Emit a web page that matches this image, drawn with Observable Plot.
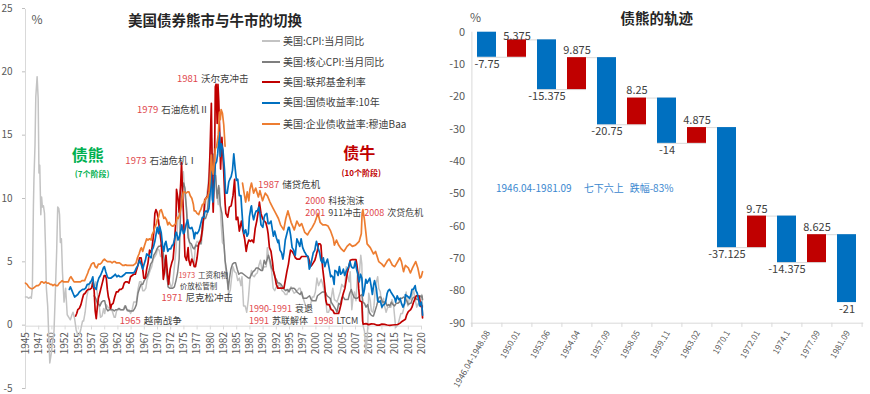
<!DOCTYPE html>
<html><head><meta charset="utf-8">
<script src="https://cdn.jsdelivr.net/npm/d3@7"></script>
<script src="https://cdn.jsdelivr.net/npm/@observablehq/plot@0.6"></script>
<style>
body{margin:0;background:#fff;font-family:"Noto Sans CJK SC",sans-serif;}
#wrap{position:relative;width:870px;height:394px;overflow:hidden;background:#fff;}
#wrap svg{position:absolute;top:0;}
.abs{position:absolute;white-space:nowrap;line-height:1;}
.leg{position:absolute;white-space:nowrap;font-size:10px;color:#404040;line-height:1;transform:translateY(-50%);}
.leg i{display:inline-block;width:18px;height:2px;vertical-align:middle;margin-right:3px;position:relative;top:-1px;}
</style></head><body><div id="wrap"></div>
<script>
// ---------------- Left chart data (year, %) ----------------
const cpi = [[1945.0,2.3],[1945.3,2.3],[1945.6,2.2],[1945.9,2.3],[1946.1,2.2],[1946.3,3.0],[1946.5,9.5],[1946.6,11.6],[1946.8,14.3],[1946.95,18.1],[1947.2,19.7],[1947.4,18.0],[1947.55,12.1],[1947.7,12.7],[1947.9,8.8],[1948.05,10.2],[1948.2,9.4],[1948.4,9.5],[1948.6,8.9],[1948.8,6.1],[1948.95,3.0],[1949.2,1.6],[1949.4,-0.7],[1949.6,-2.9],[1949.9,-2.1],[1950.1,-1.3],[1950.4,-0.4],[1950.6,2.0],[1950.9,5.9],[1951.1,9.4],[1951.3,9.3],[1951.45,8.8],[1951.6,6.6],[1951.8,6.9],[1952.0,4.3],[1952.3,1.9],[1952.6,3.0],[1952.9,0.9],[1953.2,0.7],[1953.5,0.5],[1953.8,0.9],[1954.0,1.1],[1954.3,0.6],[1954.6,-0.3],[1954.9,-0.7],[1955.2,-0.7],[1955.5,-0.2],[1955.8,0.4],[1956.0,0.4],[1956.3,1.1],[1956.6,2.3],[1956.9,2.9],[1957.2,3.5],[1957.5,3.4],[1957.8,3.0],[1958.0,3.0],[1958.3,3.5],[1958.6,2.6],[1958.9,1.8],[1959.2,0.7],[1959.5,0.8],[1959.8,1.4],[1960.0,1.0],[1960.3,1.7],[1960.6,1.5],[1960.9,1.4],[1961.2,1.5],[1961.5,1.1],[1961.8,0.7],[1962.0,0.7],[1962.3,1.3],[1962.6,1.3],[1962.9,1.3],[1963.2,1.3],[1963.5,1.3],[1963.8,1.6],[1964.0,1.6],[1964.3,1.2],[1964.6,1.3],[1964.9,1.0],[1965.2,1.3],[1965.5,1.9],[1965.8,1.9],[1966.0,1.9],[1966.3,2.9],[1966.6,3.5],[1966.9,3.5],[1967.2,2.8],[1967.5,2.8],[1967.8,3.0],[1968.0,3.6],[1968.3,4.0],[1968.6,4.4],[1968.9,4.7],[1969.2,5.3],[1969.5,5.5],[1969.8,5.7],[1970.0,6.1],[1970.3,6.0],[1970.6,5.5],[1970.9,5.6],[1971.2,4.4],[1971.5,4.5],[1971.8,3.8],[1972.0,3.3],[1972.3,3.5],[1972.6,3.0],[1972.9,3.4],[1973.2,4.7],[1973.5,6.0],[1973.8,8.0],[1974.0,9.4],[1974.3,10.7],[1974.6,11.5],[1974.9,12.2],[1975.2,10.3],[1975.5,9.4],[1975.8,7.6],[1976.0,6.7],[1976.3,6.2],[1976.6,5.4],[1976.9,4.9],[1977.2,6.4],[1977.5,6.7],[1977.8,6.6],[1978.0,6.8],[1978.3,6.5],[1978.6,7.7],[1978.9,9.0],[1979.2,10.0],[1979.5,10.9],[1979.8,12.2],[1980.0,13.9],[1980.25,14.8],[1980.5,13.1],[1980.75,12.6],[1980.95,12.5],[1981.2,10.5],[1981.5,9.6],[1981.75,10.9],[1982.0,8.4],[1982.3,6.6],[1982.6,6.4],[1982.9,4.6],[1983.2,3.6],[1983.5,2.5],[1983.8,2.9],[1984.0,3.7],[1984.3,4.7],[1984.6,4.3],[1984.9,4.2],[1985.2,3.6],[1985.5,3.8],[1985.8,3.2],[1986.0,3.9],[1986.3,1.6],[1986.6,1.6],[1986.9,1.1],[1987.2,2.1],[1987.5,3.7],[1987.8,4.4],[1988.0,4.0],[1988.3,3.9],[1988.6,4.1],[1988.9,4.2],[1989.2,4.8],[1989.5,5.2],[1989.8,4.4],[1990.0,4.6],[1990.3,4.7],[1990.6,4.7],[1990.8,6.2],[1991.0,5.6],[1991.3,4.9],[1991.6,4.4],[1991.9,3.0],[1992.2,2.8],[1992.5,3.1],[1992.8,3.0],[1993.0,3.3],[1993.3,3.2],[1993.6,2.8],[1993.9,2.7],[1994.2,2.5],[1994.5,2.5],[1994.8,2.9],[1995.0,2.8],[1995.3,3.1],[1995.6,2.8],[1995.9,2.6],[1996.2,2.7],[1996.5,2.8],[1996.8,3.0],[1997.0,3.0],[1997.3,2.5],[1997.6,2.2],[1997.9,1.8],[1998.2,1.4],[1998.5,1.7],[1998.8,1.5],[1999.0,1.7],[1999.3,2.3],[1999.6,2.3],[1999.9,2.7],[2000.2,3.8],[2000.5,3.2],[2000.8,3.5],[2001.0,3.7],[2001.3,3.3],[2001.6,2.7],[2001.9,1.9],[2002.1,1.1],[2002.4,1.1],[2002.7,1.5],[2002.9,2.2],[2003.2,3.0],[2003.5,2.1],[2003.8,2.0],[2004.0,1.9],[2004.3,2.3],[2004.6,2.7],[2004.9,3.3],[2005.2,3.1],[2005.5,3.2],[2005.75,4.7],[2006.0,4.0],[2006.3,3.5],[2006.5,4.3],[2006.8,1.3],[2007.0,2.1],[2007.3,2.7],[2007.6,2.0],[2007.9,4.3],[2008.2,4.0],[2008.5,5.6],[2008.7,4.9],[2008.9,0.1],[2009.2,-0.4],[2009.5,-2.1],[2009.8,-0.2],[2010.0,2.6],[2010.3,2.0],[2010.5,1.2],[2010.8,1.1],[2011.0,1.6],[2011.3,3.2],[2011.7,3.9],[2011.9,3.0],[2012.2,2.7],[2012.5,1.4],[2012.8,2.2],[2013.0,1.6],[2013.3,1.1],[2013.6,1.5],[2013.9,1.5],[2014.2,1.5],[2014.4,2.1],[2014.7,1.7],[2014.9,0.8],[2015.1,-0.1],[2015.3,0.0],[2015.6,0.2],[2015.9,0.7],[2016.1,1.0],[2016.4,1.0],[2016.7,1.5],[2016.9,2.1],[2017.1,2.7],[2017.4,1.6],[2017.7,2.2],[2017.9,2.1],[2018.2,2.4],[2018.5,2.9],[2018.7,2.3],[2018.9,1.9],[2019.1,1.5],[2019.4,1.8],[2019.7,1.7],[2019.9,2.3],[2020.05,2.5],[2020.2,1.5]];

const coreCpi = [[1958.0,2.4],[1958.3,2.2],[1958.6,1.8],[1958.9,1.7],[1959.1,1.6],[1959.4,1.9],[1959.7,2.0],[1960.0,2.0],[1960.3,1.4],[1960.6,1.2],[1960.9,1.3],[1961.2,1.3],[1961.5,1.3],[1961.8,1.2],[1962.1,1.3],[1962.4,1.3],[1962.7,1.4],[1963.0,1.3],[1963.3,1.3],[1963.6,1.3],[1963.9,1.6],[1964.2,1.3],[1964.5,1.2],[1964.8,1.2],[1965.1,1.2],[1965.4,1.2],[1965.7,1.4],[1966.0,1.7],[1966.3,2.6],[1966.6,3.0],[1966.9,3.3],[1967.2,3.3],[1967.5,3.6],[1967.8,3.8],[1968.1,4.0],[1968.4,4.4],[1968.7,4.9],[1969.0,5.1],[1969.3,5.6],[1969.6,5.8],[1969.9,6.1],[1970.2,6.3],[1970.5,6.3],[1970.8,6.5],[1971.1,5.7],[1971.4,4.9],[1971.7,4.5],[1972.0,3.1],[1972.3,3.0],[1972.6,3.0],[1972.9,3.0],[1973.2,3.1],[1973.5,3.6],[1973.8,4.2],[1974.1,5.3],[1974.4,9.5],[1974.7,10.6],[1974.95,11.3],[1975.2,10.9],[1975.5,9.1],[1975.8,7.0],[1976.1,6.6],[1976.4,6.5],[1976.7,6.2],[1976.95,6.1],[1977.3,6.4],[1977.6,6.3],[1977.9,6.5],[1978.2,6.5],[1978.5,8.0],[1978.8,8.5],[1979.1,8.5],[1979.4,8.9],[1979.7,10.3],[1979.95,11.3],[1980.3,12.9],[1980.5,13.6],[1980.7,11.9],[1981.0,11.9],[1981.3,10.1],[1981.6,11.1],[1981.9,9.5],[1982.2,8.9],[1982.5,7.1],[1982.8,5.2],[1983.1,4.3],[1983.4,2.9],[1983.6,3.7],[1983.9,4.5],[1984.2,4.9],[1984.5,5.0],[1984.8,5.0],[1985.1,4.5],[1985.4,4.1],[1985.7,4.2],[1986.0,4.2],[1986.3,4.1],[1986.6,4.0],[1986.9,3.9],[1987.2,3.8],[1987.5,3.8],[1987.8,4.1],[1988.1,4.3],[1988.4,4.4],[1988.7,4.6],[1989.0,4.6],[1989.3,4.5],[1989.6,4.4],[1989.9,4.4],[1990.2,5.2],[1990.5,4.9],[1990.8,5.3],[1991.0,5.6],[1991.3,5.2],[1991.6,4.6],[1991.9,4.4],[1992.2,3.9],[1992.5,3.7],[1992.8,3.4],[1993.1,3.4],[1993.4,3.3],[1993.7,3.1],[1994.0,2.9],[1994.3,2.8],[1994.6,2.9],[1994.9,2.7],[1995.2,3.0],[1995.5,3.0],[1995.8,3.0],[1996.1,2.9],[1996.4,2.7],[1996.7,2.6],[1997.0,2.5],[1997.3,2.7],[1997.6,2.2],[1997.9,2.2],[1998.2,2.2],[1998.5,2.3],[1998.8,2.4],[1999.1,2.1],[1999.4,2.0],[1999.7,2.0],[2000.0,2.0],[2000.3,2.4],[2000.6,2.5],[2000.9,2.6],[2001.2,2.7],[2001.5,2.7],[2001.8,2.7],[2002.1,2.4],[2002.4,2.3],[2002.7,2.2],[2002.9,1.9],[2003.2,1.7],[2003.5,1.5],[2003.8,1.3],[2004.0,1.1],[2004.3,1.8],[2004.6,1.7],[2004.9,2.2],[2005.2,2.3],[2005.5,2.1],[2005.8,2.1],[2006.1,2.1],[2006.4,2.6],[2006.7,2.9],[2006.9,2.6],[2007.2,2.3],[2007.5,2.2],[2007.8,2.2],[2008.1,2.3],[2008.4,2.4],[2008.7,2.5],[2008.9,1.9],[2009.2,1.8],[2009.5,1.5],[2009.8,1.7],[2010.1,1.1],[2010.4,0.9],[2010.7,0.8],[2010.9,0.8],[2011.2,1.2],[2011.5,1.6],[2011.8,2.1],[2012.0,2.3],[2012.3,2.3],[2012.6,1.9],[2012.9,1.9],[2013.2,1.9],[2013.5,1.6],[2013.8,1.7],[2014.0,1.6],[2014.3,1.9],[2014.6,1.7],[2014.9,1.6],[2015.2,1.8],[2015.5,1.8],[2015.8,1.9],[2016.0,2.2],[2016.3,2.2],[2016.6,2.3],[2016.9,2.2],[2017.2,2.0],[2017.5,1.7],[2017.8,1.8],[2018.0,1.8],[2018.3,2.2],[2018.6,2.3],[2018.9,2.2],[2019.1,2.1],[2019.4,2.1],[2019.7,2.4],[2019.95,2.3],[2020.1,2.4],[2020.2,2.1]];

const fedFunds = [[1954.5,0.8],[1954.7,1.0],[1954.9,1.3],[1955.2,1.4],[1955.5,1.7],[1955.8,2.2],[1956.0,2.5],[1956.3,2.6],[1956.6,2.8],[1956.9,2.9],[1957.2,2.9],[1957.5,3.0],[1957.8,3.5],[1958.0,2.8],[1958.2,1.2],[1958.4,0.6],[1958.6,1.5],[1958.8,2.2],[1959.0,2.5],[1959.3,3.0],[1959.6,3.5],[1959.9,4.0],[1960.1,4.0],[1960.3,3.8],[1960.5,2.9],[1960.7,2.3],[1960.9,2.0],[1961.1,1.4],[1961.3,1.7],[1961.6,1.8],[1961.9,2.3],[1962.2,2.7],[1962.5,2.7],[1962.8,2.9],[1963.1,2.9],[1963.4,3.0],[1963.7,3.4],[1963.95,3.5],[1964.3,3.5],[1964.6,3.4],[1964.9,3.9],[1965.2,4.0],[1965.5,4.1],[1965.8,4.1],[1966.0,4.4],[1966.3,4.8],[1966.6,5.4],[1966.9,5.4],[1967.2,4.5],[1967.4,3.8],[1967.7,3.8],[1967.95,4.5],[1968.2,5.0],[1968.5,6.0],[1968.8,5.8],[1969.0,6.3],[1969.3,7.4],[1969.5,8.9],[1969.7,9.2],[1969.9,9.0],[1970.1,8.6],[1970.4,7.6],[1970.7,6.6],[1970.95,5.0],[1971.1,3.7],[1971.3,4.2],[1971.6,5.6],[1971.9,4.1],[1972.1,3.3],[1972.4,4.5],[1972.7,5.0],[1972.95,5.3],[1973.2,6.5],[1973.5,8.5],[1973.6,10.8],[1973.9,10.0],[1974.1,9.0],[1974.4,11.3],[1974.55,12.9],[1974.8,10.0],[1974.95,8.5],[1975.2,5.5],[1975.5,5.2],[1975.8,6.2],[1975.95,5.2],[1976.2,4.8],[1976.5,5.3],[1976.8,5.0],[1976.95,4.7],[1977.2,4.7],[1977.5,5.4],[1977.8,6.5],[1977.95,6.6],[1978.2,6.8],[1978.5,7.6],[1978.8,9.0],[1978.95,10.0],[1979.2,10.1],[1979.5,10.3],[1979.75,11.4],[1979.95,13.8],[1980.2,17.6],[1980.4,11.0],[1980.55,9.0],[1980.8,12.8],[1980.95,18.9],[1981.1,19.1],[1981.3,16.0],[1981.45,19.1],[1981.6,17.8],[1981.8,15.1],[1981.95,12.4],[1982.2,14.9],[1982.5,12.6],[1982.8,9.7],[1982.95,8.9],[1983.3,8.6],[1983.6,9.4],[1983.95,9.5],[1984.3,10.3],[1984.6,11.6],[1984.9,8.4],[1985.2,8.6],[1985.5,7.5],[1985.9,8.3],[1986.2,7.5],[1986.5,6.9],[1986.8,5.9],[1987.0,6.4],[1987.3,6.8],[1987.6,6.7],[1987.9,6.8],[1988.2,6.6],[1988.5,7.7],[1988.8,8.3],[1989.1,9.1],[1989.3,9.8],[1989.6,8.9],[1989.9,8.5],[1990.2,8.3],[1990.5,8.2],[1990.8,7.7],[1990.95,7.3],[1991.2,6.2],[1991.5,5.9],[1991.8,5.0],[1991.95,4.4],[1992.2,4.0],[1992.5,3.3],[1992.8,3.0],[1993.1,3.0],[1993.4,3.0],[1993.7,3.0],[1993.95,3.0],[1994.2,3.6],[1994.5,4.3],[1994.8,4.9],[1995.0,5.5],[1995.2,6.0],[1995.5,5.9],[1995.8,5.7],[1996.1,5.4],[1996.4,5.3],[1996.7,5.3],[1996.95,5.3],[1997.3,5.5],[1997.6,5.5],[1997.9,5.5],[1998.2,5.5],[1998.5,5.5],[1998.8,5.1],[1998.95,4.7],[1999.2,4.8],[1999.5,5.0],[1999.8,5.2],[2000.0,5.5],[2000.3,6.0],[2000.5,6.5],[2000.8,6.5],[2000.95,6.4],[2001.1,5.5],[2001.3,4.5],[2001.5,3.8],[2001.7,3.0],[2001.9,2.0],[2002.1,1.7],[2002.5,1.7],[2002.9,1.3],[2003.2,1.25],[2003.5,1.0],[2003.9,1.0],[2004.3,1.0],[2004.5,1.3],[2004.8,1.8],[2004.95,2.2],[2005.2,2.6],[2005.5,3.0],[2005.8,3.8],[2005.95,4.2],[2006.2,4.6],[2006.5,5.2],[2006.8,5.25],[2007.2,5.25],[2007.6,5.25],[2007.75,4.9],[2007.95,4.2],[2008.1,3.0],[2008.3,2.0],[2008.7,1.9],[2008.85,0.4],[2008.95,0.16],[2009.5,0.2],[2010.0,0.12],[2010.5,0.18],[2011.0,0.17],[2011.5,0.09],[2012.0,0.08],[2012.5,0.16],[2013.0,0.14],[2013.5,0.09],[2014.0,0.07],[2014.5,0.09],[2015.0,0.11],[2015.5,0.13],[2015.95,0.24],[2016.3,0.37],[2016.95,0.54],[2017.2,0.9],[2017.5,1.15],[2017.95,1.3],[2018.2,1.5],[2018.5,1.9],[2018.8,2.2],[2019.0,2.4],[2019.5,2.4],[2019.7,2.0],[2019.9,1.55],[2020.1,1.6],[2020.2,0.65]];

const treasury10y = [[1953.3,2.9],[1953.5,3.1],[1953.8,2.8],[1954.0,2.6],[1954.3,2.3],[1954.6,2.4],[1954.9,2.5],[1955.2,2.7],[1955.5,2.8],[1955.8,2.9],[1956.1,2.9],[1956.4,3.0],[1956.7,3.3],[1956.95,3.3],[1957.2,3.4],[1957.5,3.6],[1957.75,3.9],[1957.95,3.1],[1958.2,3.0],[1958.4,2.9],[1958.6,3.4],[1958.9,3.8],[1959.2,4.0],[1959.5,4.3],[1959.75,4.6],[1959.95,4.7],[1960.2,4.3],[1960.5,3.9],[1960.7,3.8],[1960.95,3.8],[1961.2,3.8],[1961.5,3.9],[1961.8,4.0],[1962.0,4.1],[1962.3,3.9],[1962.6,4.0],[1962.9,3.9],[1963.2,3.9],[1963.5,4.0],[1963.8,4.1],[1964.0,4.2],[1964.3,4.2],[1964.6,4.2],[1964.9,4.2],[1965.2,4.2],[1965.5,4.2],[1965.8,4.4],[1966.0,4.6],[1966.3,4.8],[1966.6,5.2],[1966.9,4.9],[1967.2,4.5],[1967.4,4.8],[1967.7,5.2],[1967.95,5.7],[1968.2,5.6],[1968.5,5.5],[1968.8,5.4],[1968.95,6.0],[1969.2,6.2],[1969.5,6.7],[1969.75,7.3],[1969.95,7.8],[1970.2,7.3],[1970.4,7.9],[1970.7,7.4],[1970.95,6.4],[1971.2,5.9],[1971.4,6.5],[1971.6,6.7],[1971.95,5.9],[1972.2,6.1],[1972.5,6.1],[1972.8,6.4],[1972.95,6.4],[1973.2,6.8],[1973.5,7.4],[1973.6,7.4],[1973.9,6.8],[1974.1,7.0],[1974.4,7.5],[1974.6,8.0],[1974.9,7.3],[1975.1,7.4],[1975.4,8.0],[1975.7,8.4],[1975.95,7.8],[1976.2,7.7],[1976.5,7.8],[1976.8,7.4],[1976.95,6.9],[1977.2,7.4],[1977.5,7.3],[1977.8,7.5],[1977.95,7.7],[1978.2,8.1],[1978.5,8.6],[1978.8,8.6],[1978.95,9.0],[1979.2,9.1],[1979.5,9.0],[1979.75,9.3],[1979.95,10.4],[1980.15,12.8],[1980.4,10.0],[1980.5,9.8],[1980.8,11.6],[1980.95,12.8],[1981.2,13.0],[1981.4,13.6],[1981.7,15.3],[1981.9,13.4],[1982.1,14.4],[1982.4,13.9],[1982.7,12.3],[1982.9,10.5],[1983.2,10.5],[1983.5,11.4],[1983.7,11.6],[1983.95,11.8],[1984.2,12.3],[1984.45,13.6],[1984.7,12.5],[1984.95,11.5],[1985.2,11.6],[1985.5,10.3],[1985.8,10.3],[1985.95,9.3],[1986.2,7.8],[1986.4,7.3],[1986.7,7.6],[1986.95,7.1],[1987.2,7.3],[1987.4,8.6],[1987.7,9.4],[1987.8,9.5],[1987.95,8.9],[1988.2,8.4],[1988.5,8.9],[1988.7,9.1],[1988.95,9.1],[1989.2,9.4],[1989.4,8.9],[1989.6,8.0],[1989.95,7.8],[1990.2,8.6],[1990.4,8.8],[1990.7,8.9],[1990.95,8.1],[1991.2,8.1],[1991.5,8.3],[1991.8,7.5],[1991.95,7.1],[1992.2,7.5],[1992.5,7.0],[1992.8,6.6],[1992.95,6.8],[1993.2,6.0],[1993.5,5.8],[1993.75,5.3],[1993.95,5.8],[1994.2,6.8],[1994.5,7.3],[1994.8,7.8],[1994.95,7.8],[1995.2,7.2],[1995.5,6.2],[1995.8,6.0],[1995.95,5.7],[1996.1,5.6],[1996.4,6.9],[1996.7,6.6],[1996.95,6.3],[1997.2,6.9],[1997.5,6.2],[1997.8,5.9],[1997.95,5.8],[1998.2,5.6],[1998.5,5.5],[1998.75,4.5],[1998.95,4.7],[1999.2,5.2],[1999.5,5.8],[1999.8,6.0],[1999.95,6.4],[2000.1,6.7],[2000.4,6.2],[2000.7,5.8],[2000.95,5.2],[2001.2,5.0],[2001.4,5.4],[2001.7,4.7],[2001.9,5.0],[2002.2,5.3],[2002.5,4.6],[2002.8,3.9],[2002.95,4.0],[2003.2,3.9],[2003.45,3.3],[2003.6,4.4],[2003.95,4.3],[2004.2,4.0],[2004.45,4.7],[2004.7,4.1],[2004.95,4.2],[2005.2,4.5],[2005.45,4.0],[2005.7,4.3],[2005.95,4.5],[2006.2,4.7],[2006.45,5.1],[2006.7,4.7],[2006.95,4.6],[2007.2,4.6],[2007.45,5.1],[2007.7,4.5],[2007.95,4.1],[2008.2,3.5],[2008.45,4.1],[2008.7,3.8],[2008.95,2.4],[2009.2,2.9],[2009.45,3.7],[2009.7,3.4],[2009.95,3.6],[2010.2,3.8],[2010.45,3.2],[2010.7,2.5],[2010.95,3.3],[2011.1,3.6],[2011.45,3.0],[2011.7,2.0],[2011.95,1.9],[2012.2,2.0],[2012.5,1.5],[2012.8,1.7],[2012.95,1.7],[2013.2,1.9],[2013.5,2.6],[2013.7,2.8],[2013.95,2.9],[2014.2,2.7],[2014.5,2.5],[2014.8,2.3],[2014.95,2.2],[2015.1,1.9],[2015.4,2.4],[2015.7,2.1],[2015.95,2.2],[2016.2,1.8],[2016.5,1.5],[2016.8,1.8],[2016.95,2.5],[2017.2,2.4],[2017.5,2.3],[2017.7,2.2],[2017.95,2.4],[2018.2,2.9],[2018.45,2.9],[2018.8,3.2],[2018.95,2.8],[2019.2,2.6],[2019.45,2.1],[2019.65,1.6],[2019.95,1.9],[2020.1,1.5],[2020.2,0.87]];

const baa = [[1945.0,3.4],[1945.3,3.3],[1945.6,3.1],[1945.9,3.0],[1946.2,2.95],[1946.5,3.0],[1946.8,3.1],[1947.1,3.2],[1947.4,3.2],[1947.7,3.3],[1947.95,3.5],[1948.2,3.5],[1948.5,3.4],[1948.8,3.5],[1949.1,3.4],[1949.4,3.4],[1949.7,3.3],[1949.95,3.3],[1950.2,3.2],[1950.5,3.3],[1950.8,3.2],[1951.1,3.2],[1951.4,3.4],[1951.7,3.5],[1951.95,3.6],[1952.2,3.5],[1952.5,3.5],[1952.8,3.5],[1953.1,3.5],[1953.4,3.8],[1953.6,3.9],[1953.9,3.7],[1954.2,3.5],[1954.5,3.5],[1954.8,3.5],[1955.1,3.5],[1955.4,3.5],[1955.7,3.6],[1955.95,3.6],[1956.2,3.6],[1956.5,3.9],[1956.8,4.2],[1956.95,4.4],[1957.2,4.6],[1957.5,4.9],[1957.8,5.0],[1957.95,5.0],[1958.2,4.7],[1958.5,4.6],[1958.8,4.9],[1959.1,4.9],[1959.4,5.0],[1959.7,5.2],[1959.95,5.3],[1960.2,5.2],[1960.5,5.1],[1960.8,5.1],[1961.1,5.1],[1961.4,5.0],[1961.7,5.1],[1961.95,5.1],[1962.2,5.0],[1962.5,5.0],[1962.8,5.0],[1963.1,4.9],[1963.4,4.8],[1963.7,4.8],[1963.95,4.85],[1964.2,4.8],[1964.5,4.8],[1964.8,4.8],[1965.1,4.8],[1965.4,4.8],[1965.7,4.9],[1965.95,5.0],[1966.2,5.4],[1966.5,5.7],[1966.8,6.1],[1966.95,6.2],[1967.2,5.9],[1967.5,6.3],[1967.8,6.7],[1967.95,6.9],[1968.2,6.8],[1968.5,6.9],[1968.8,6.8],[1968.95,7.2],[1969.2,7.4],[1969.5,7.8],[1969.8,8.1],[1969.95,8.4],[1970.2,8.6],[1970.45,9.1],[1970.7,9.2],[1970.95,8.9],[1971.2,8.5],[1971.4,8.6],[1971.7,8.4],[1971.95,8.0],[1972.2,8.2],[1972.5,8.0],[1972.8,7.9],[1972.95,7.9],[1973.2,8.0],[1973.5,8.1],[1973.7,8.6],[1973.95,8.5],[1974.2,8.8],[1974.5,9.5],[1974.7,10.2],[1974.9,10.6],[1975.1,10.6],[1975.4,10.5],[1975.7,10.6],[1975.95,10.6],[1976.2,10.3],[1976.5,10.1],[1976.8,9.6],[1976.95,9.1],[1977.2,9.1],[1977.5,8.9],[1977.8,8.8],[1977.95,9.0],[1978.2,9.2],[1978.5,9.6],[1978.8,9.7],[1978.95,9.9],[1979.2,10.1],[1979.5,10.2],[1979.75,10.6],[1979.95,11.5],[1980.2,13.5],[1980.4,12.3],[1980.55,12.0],[1980.8,13.1],[1980.95,14.0],[1981.2,14.2],[1981.5,15.1],[1981.75,16.9],[1981.9,16.3],[1982.05,17.1],[1982.3,16.8],[1982.55,15.9],[1982.8,14.2],[1984.5,null],[1986.1,11.3],[1986.4,10.5],[1986.7,9.8],[1987.0,10.6],[1987.3,9.9],[1987.5,10.8],[1987.8,11.3],[1988.2,10.5],[1988.6,10.9],[1989.1,10.2],[1989.4,10.7],[1989.9,9.9],[1990.4,10.5],[1990.8,10.3],[1991.3,9.8],[1991.9,9.3],[1992.4,8.9],[1992.9,8.5],[1993.3,8.0],[1993.9,7.6],[1994.3,8.5],[1994.7,9.1],[1995.3,8.2],[1995.9,7.6],[1996.4,8.3],[1996.9,7.9],[1997.3,8.1],[1997.9,7.4],[1998.4,7.2],[1998.8,7.5],[1999.3,7.8],[1999.8,8.2],[2000.4,8.9],[2000.8,8.2],[2001.3,8.0],[2001.8,8.0],[2002.3,7.9],[2002.8,7.5],[2003.3,6.9],[2003.5,6.4],[2003.9,6.8],[2004.3,6.4],[2004.8,6.1],[2005.3,5.9],[2005.9,6.3],[2006.4,6.5],[2006.9,6.3],[2007.5,6.4],[2008.2,6.7],[2008.6,7.3],[2008.75,8.9],[2008.9,9.2],[2009.2,8.4],[2009.7,6.5],[2010.3,6.2],[2010.9,5.7],[2011.3,5.9],[2011.9,5.1],[2012.5,4.9],[2012.9,4.7],[2013.6,5.2],[2013.9,5.3],[2014.5,4.8],[2014.95,4.7],[2015.9,5.4],[2016.2,5.1],[2016.6,4.3],[2016.95,4.8],[2017.5,4.6],[2017.9,4.2],[2018.3,4.6],[2018.9,5.1],[2019.3,4.6],[2019.7,3.8],[2019.95,3.9],[2020.2,4.3]];

const xTickLabels = ["1945","1947","1950","1952","1955","1957","1960","1962","1965","1967","1970","1972","1975","1977","1980","1982","1985","1987","1990","1992","1995","1997","2000","2002","2005","2007","2010","2012","2015","2017","2020"];
const yTicksLeft = [-5,0,5,10,15,20,25];

const seriesNames = ["美国:CPI:当月同比","美国:核心CPI:当月同比","美国:联邦基金利率","美国:国债收益率:10年","美国:企业债收益率:穆迪Baa"];
const seriesColors = ["#C3C3C3","#7F7F7F","#C00000","#0070C0","#ED7D31"];

// annotations: anchor (year position, value); red part ends at anchor, grey part starts there
const notes = [
  {x:1977.86,y:19.55,a:"1981",b:"沃尔克冲击",s:9.5},
  {x:1970.32,y:17.1,a:"1979",b:"石油危机Ⅱ",s:9.5},
  {x:1968.1,y:13.04,a:"1973",b:"石油危机Ⅰ",s:9.5},
  {x:1993.24,y:11.17,a:"1987",b:"储贷危机",s:9.5},
  {x:2001.97,y:9.85,a:"2000",b:"科技泡沫",s:9},
  {x:2001.97,y:8.92,a:"2001",b:"911冲击",s:9},
  {x:2013.12,y:8.92,a:"2008",b:"次贷危机",s:9},
  {x:1977.3,y:4.0,a:"1973",b:"工资和物",s:7.5},
  {x:1974.92,y:2.24,a:"1971",b:"尼克松冲击",s:9.5},
  {x:1995.66,y:1.32,a:"1990-1991",b:"衰退",s:9},
  {x:1991.3,y:0.42,a:"1991",b:"苏联解体",s:9},
  {x:2003.52,y:0.42,a:"1998",b:"LTCM",s:9},
  {x:1967.03,y:0.4,a:"1965",b:"越南战争",s:9.5}
];

// ---------------- Right chart data ----------------
const periods = ["1946.04-1948.08","1950.01","1953.06","1954.04","1957.09","1958.05","1959.11","1963.02","1970.1","1972.01","1974.1","1977.09","1981.09"];
const changes = [-7.75,5.375,-15.375,9.875,-20.75,8.25,-14,4.875,-37.125,9.75,-14.375,8.625,-21];
const yTicksRight = [-90,-80,-70,-60,-50,-40,-30,-20,-10,0];

const BLUE = "#0070C0", RED = "#C00000", GRID = "#D9D9D9", TXT = "#595959", ANN_RED = "#E0474C";
const FONT = "Noto Sans CJK SC, sans-serif";

// ---------- left plot ----------
const toPts = arr => arr.map(([x, y]) => ({x, y}));
const allSeries = [cpi, coreCpi, fedFunds, treasury10y, baa];
const tickData = xTickLabels.map((label, i) => ({pos: 1945 + i * 2.5, label}));

const leftPlot = Plot.plot({
  width: 440, height: 394,
  marginLeft: 25, marginRight: 19, marginTop: 9, marginBottom: 5,
  x: {domain: [1945, 2020], axis: null},
  y: {domain: [-5, 25]},
  style: {fontFamily: FONT, background: "transparent", overflow: "visible"},
  marks: [
    Plot.ruleX([1945], {stroke: GRID}),
    Plot.ruleY([0], {stroke: GRID}),
    Plot.axisY({ticks: yTicksLeft, tickSize: 3, tickPadding: 10, fontSize: 10, stroke: "#BFBFBF", fill: TXT, tickFormat: d => String(d), label: null, dy: -1}),
    Plot.ruleX(tickData, {x: "pos", y1: 0, y2: -0.3, stroke: GRID}),
    Plot.text(tickData, {x: "pos", y: 0, text: "label", rotate: -90, textAnchor: "end", dy: 6, fontSize: 10, fill: TXT}),
    ...allSeries.map((s, i) => Plot.line(toPts(s), {x: "x", y: "y", stroke: seriesColors[i], strokeWidth: i < 2 ? 1.5 : 1.7})),
    Plot.text(notes, {x: "x", y: "y", text: "a", textAnchor: "end", fill: ANN_RED, fontSize: d => d.s, dx: -1}),
    Plot.text(notes, {x: "x", y: "y", text: "b", textAnchor: "start", fill: "#404040", fontSize: d => d.s, dx: 2}),
    Plot.text(["价放松管制"], {x: 1974.22, y: 3.1, text: d => d, textAnchor: "start", fill: "#404040", fontSize: 7.5}),
    Plot.text(["债熊"], {x: 1956.8, y: 13.45, text: d => d, fill: "#00B050", fontSize: 16, fontWeight: "bold"}),
    Plot.text(["(7个阶段)"], {x: 1957.6, y: 11.95, text: d => d, fill: "#00B050", fontSize: 8, fontWeight: "bold"}),
    Plot.text(["债牛"], {x: 2008.2, y: 13.6, text: d => d, fill: "#C00000", fontSize: 16, fontWeight: "bold"}),
    Plot.text(["(10个阶段)"], {x: 2008.6, y: 12.05, text: d => d, fill: "#C00000", fontSize: 8, fontWeight: "bold"})
  ]
});
leftPlot.style.left = "0px";

// ---------- right plot ----------
let level = 0;
const rows = periods.map((p, i) => {
  const start = level; level += changes[i];
  return {cat: p, v: changes[i], start, end: level, next: periods[i + 1], label: String(changes[i])};
});
const neg = rows.filter(d => d.v < 0), pos = rows.filter(d => d.v > 0);
const step = (863.3 - 470.7) / periods.length;

const rightPlot = Plot.plot({
  width: 430, height: 394,
  marginLeft: 30.7, marginRight: 6.7, marginTop: 31.7, marginBottom: 71.3,
  x: {domain: periods, paddingInner: 0.36, paddingOuter: 0.18, axis: null},
  y: {domain: [-90, 0]},
  style: {fontFamily: FONT, background: "transparent", overflow: "visible"},
  marks: [
    Plot.ruleY([-90], {stroke: GRID}),
    Plot.ruleX(periods, {x: d => d, y1: 0, y2: -91.3, dx: -step / 2, stroke: GRID, filter: (d, i) => i === 0}),
    Plot.ruleX(periods, {x: d => d, y1: -90, y2: -91.3, dx: -step / 2, stroke: GRID}),
    Plot.ruleX([periods[periods.length - 1]], {x: d => d, y1: -90, y2: -91.3, dx: step / 2, stroke: GRID}),
    Plot.axisY({ticks: yTicksRight, tickSize: 0, tickPadding: 6, fontSize: 11, fill: TXT, tickFormat: d => String(d), label: null}),
    Plot.ruleY(rows.filter(d => d.next), {x1: "cat", x2: "next", y: "end", stroke: GRID, strokeWidth: 1}),
    Plot.barY(neg, {x: "cat", y1: "start", y2: "end", fill: BLUE}),
    Plot.barY(pos, {x: "cat", y1: "start", y2: "end", fill: RED}),
    Plot.text(neg, {x: "cat", y: "end", text: "label", dy: 7, fontSize: 11, fill: "#404040"}),
    Plot.text(pos, {x: "cat", y: d => Math.min(d.end + 2.2, -1.45), text: "label", fontSize: 11, fill: "#404040"}),
    Plot.text(periods, {x: d => d, y: -90, text: d => d, rotate: -60, textAnchor: "end", dy: 8, dx: 1, fontSize: 8.5, fill: TXT})
  ]
});
rightPlot.style.left = "440px";

const wrap = document.getElementById("wrap");
wrap.appendChild(leftPlot);
wrap.appendChild(rightPlot);

function addText(txt, x, y, css, center) {
  const d = document.createElement("div");
  d.className = "abs";
  d.textContent = txt;
  d.style.cssText += css;
  d.style.left = x + "px"; d.style.top = y + "px";
  d.style.transform = center ? "translate(-50%,-50%)" : "translateY(-50%)";
  wrap.appendChild(d);
  return d;
}
addText("美国债券熊市与牛市的切换", 215, 19.5, "font-size:14.5px;font-weight:700;color:#262626;", true);
addText("%", 31.5, 18.5, "font-size:12px;color:#595959;", false);
addText("债熊的轨迹", 656.7, 17.5, "font-size:14.5px;font-weight:700;color:#262626;", true);
addText("%", 470, 17, "font-size:12px;color:#595959;", false);

const legY = [41, 61.5, 81.7, 102.3, 124];
seriesNames.forEach((n, i) => {
  const d = document.createElement("div");
  d.className = "leg";
  d.style.left = "262px"; d.style.top = legY[i] + "px";
  const sw = document.createElement("i");
  sw.style.background = seriesColors[i];
  d.appendChild(sw);
  d.appendChild(document.createTextNode(n));
  wrap.appendChild(d);
});

const ann = document.createElement("div");
ann.className = "abs";
ann.style.cssText += "left:496px;top:187.5px;transform:translateY(-50%);font-size:10px;color:#3A87CF;";
ann.innerHTML = '<span>1946.04-1981.09</span><span style="margin-left:12px">七下六上</span><span style="margin-left:6px">跌幅-83%</span>';
wrap.appendChild(ann);
</script></body></html>
